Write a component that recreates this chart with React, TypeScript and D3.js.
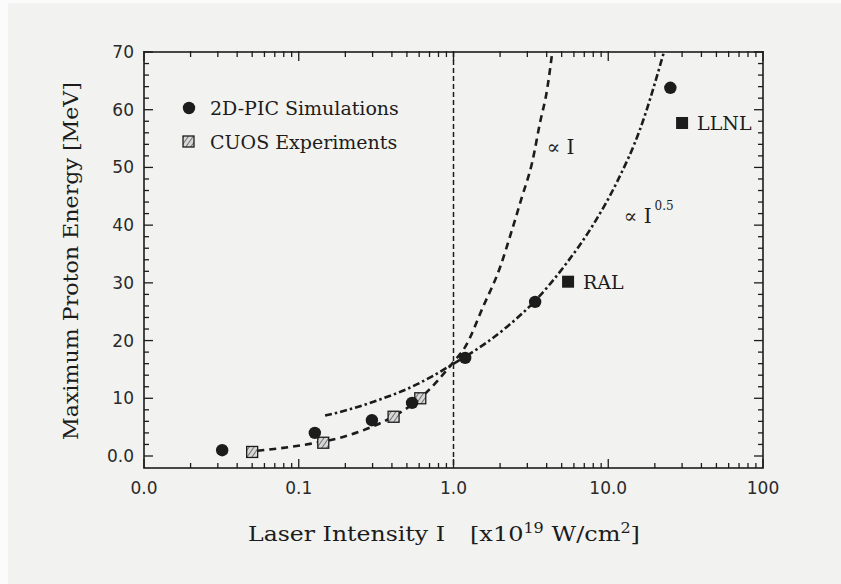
import React from 'react';
import * as d3 from 'd3';

// 2D-PIC simulation points (filled circles)
const picI = [0.032, 0.127, 0.297, 0.54, 1.19, 3.37, 25.2];
const picE = [1.0, 4.0, 6.2, 9.2, 17.0, 26.7, 63.8];

// CUOS experiment points (hatched squares)
const cuosI = [0.05, 0.144, 0.41, 0.61];
const cuosE = [0.7, 2.3, 6.8, 10.0];

// other facilities (filled squares)
const facilityNames = ['RAL', 'LLNL'];
const facilityI = [5.5, 30];
const facilityE = [30.2, 57.7];

// dashed guide "∝ I"
const linI = [0.054, 0.118, 0.193, 0.288, 0.406, 0.608, 1.0, 1.19, 1.55, 2.0, 2.39, 2.77, 3.22, 3.62, 4.02, 4.35];
const linE = [0.9, 2.1, 3.3, 4.9, 6.8, 10.0, 16.3, 18.9, 25.8, 32.7, 39.2, 44.9, 50.8, 57.7, 63.4, 70];

// dash-dot guide "∝ I^0.5"
const sqrtI = [0.148, 0.214, 0.335, 0.5, 0.738, 1.0, 1.19, 2.22, 3.37, 5.41, 7.96, 11.4, 16.0, 22.9];
const sqrtE = [7.0, 8.1, 9.8, 11.6, 13.9, 16.0, 17.2, 22.4, 26.9, 33.5, 40.0, 47.5, 56.5, 70];

// axis tick labels
const xTickValues = [0.01, 0.1, 1, 10, 100];
const xTickLabels = ['0.0', '0.1', '1.0', '10.0', '100'];
const yTickValues = [0, 10, 20, 30, 40, 50, 60, 70];
const yTickLabels = ['0.0', '10', '20', '30', '40', '50', '60', '70'];

const W = 841;
const H = 584;
const INK = '#1c1c1c';
const SERIF = '"DejaVu Serif", "Liberation Serif", serif';
const SANS = '"DejaVu Sans", "Liberation Sans", sans-serif';

const App = () => {
    const x = d3.scaleLog().domain([0.01, 100]).range([144, 763]);
    const y = d3.scaleLinear().domain([-2.08, 70]).range([468, 52]);
    const [x0, x1] = x.range();
    const [y0, y1] = y.range();

    const line = d3.line<[number, number]>()
        .x(d => x(d[0]))
        .y(d => y(d[1]))
        .curve(d3.curveMonotoneX);

    const linPts = linI.map((v, i) => [v, linE[i]] as [number, number]);
    const sqrtPts = sqrtI.map((v, i) => [v, sqrtE[i]] as [number, number]);

    const xTicks = x.ticks();
    const isDecade = (t: number) => Math.abs(Math.log10(t) - Math.round(Math.log10(t))) < 1e-6;
    const yTicks = d3.range(0, 71, 2);

    return (
        <div style={{ position: 'fixed', left: 0, top: 0 }}>
            <svg width={W} height={H} style={{ display: 'block' }}>
                <defs>
                    <pattern id="hatch" width="4" height="4" patternUnits="userSpaceOnUse" patternTransform="rotate(35)">
                        <rect width="4" height="4" fill="#d8d8d8" />
                        <line x1="0" y1="0" x2="0" y2="4" stroke="#444" strokeWidth="1.4" />
                    </pattern>
                </defs>
                <rect width={W} height={H} fill="#fbfbfb" />
                <rect x={8} y={3} width={W - 8} height={H - 3} fill="#f2f2f0" />

                {/* frame */}
                <rect x={x0} y={y1} width={x1 - x0} height={y0 - y1} fill="none" stroke={INK} strokeWidth={1.6} />

                {/* x ticks, bottom and top */}
                {xTicks.map((t, i) => {
                    const len = isDecade(t) ? 9 : 5;
                    return (
                        <g key={'xt' + i} stroke={INK} strokeWidth={1.3}>
                            <line x1={x(t)} x2={x(t)} y1={y0} y2={y0 - len} />
                            <line x1={x(t)} x2={x(t)} y1={y1 - 1} y2={y1 + len} />
                        </g>
                    );
                })}
                {/* y ticks, left and right */}
                {yTicks.map((t, i) => {
                    const len = t % 10 === 0 ? 9 : 5;
                    return (
                        <g key={'yt' + i} stroke={INK} strokeWidth={1.3}>
                            <line x1={x0} x2={x0 + len} y1={y(t)} y2={y(t)} />
                            <line x1={x1} x2={x1 - len} y1={y(t)} y2={y(t)} />
                        </g>
                    );
                })}

                {/* tick labels */}
                {xTickValues.map((t, i) => (
                    <text key={'xl' + i} x={x(t)} y={494} textAnchor="middle"
                        fontFamily={SANS} fontSize={17} fill="#2a2a2a">{xTickLabels[i]}</text>
                ))}
                {yTickValues.map((t, i) => (
                    <text key={'yl' + i} x={134} y={y(t) + 6} textAnchor="end"
                        fontFamily={SANS} fontSize={17} fill="#2a2a2a">{yTickLabels[i]}</text>
                ))}

                {/* axis titles */}
                <text x={248} y={541} fontFamily={SERIF} fontSize={21} fill={INK}
                    textLength={197} lengthAdjust="spacingAndGlyphs">Laser Intensity I</text>
                <text x={470} y={541} fontFamily={SERIF} fontSize={21} fill={INK}
                    textLength={170} lengthAdjust="spacingAndGlyphs">
                    [x10<tspan dy={-8} fontSize={14}>19</tspan><tspan dy={8}> W/cm</tspan>
                    <tspan dy={-8} fontSize={14}>2</tspan><tspan dy={8}>]</tspan>
                </text>
                <text transform="translate(78, 261) rotate(-90)" textAnchor="middle"
                    fontFamily={SERIF} fontSize={21} fill={INK}
                    textLength={358} lengthAdjust="spacingAndGlyphs">Maximum Proton Energy [MeV]</text>

                {/* reference line at I = 1 */}
                <line x1={x(1)} x2={x(1)} y1={y1} y2={y0} stroke={INK} strokeWidth={1.5} strokeDasharray="5 3" />

                {/* guide curves */}
                <path d={line(linPts) || ''} fill="none" stroke={INK} strokeWidth={2.6} strokeDasharray="7 5" />
                <path d={line(sqrtPts) || ''} fill="none" stroke={INK} strokeWidth={2.6} strokeDasharray="7 3 2.5 3" />

                {/* CUOS squares */}
                {cuosI.map((v, i) => (
                    <rect key={'c' + i} x={x(v) - 5.5} y={y(cuosE[i]) - 5.5} width={11} height={11}
                        fill="url(#hatch)" stroke={INK} strokeWidth={1.3} />
                ))}
                {/* PIC circles */}
                {picI.map((v, i) => (
                    <circle key={'p' + i} cx={x(v)} cy={y(picE[i])} r={6.2} fill={INK} />
                ))}
                {/* facilities */}
                {facilityI.map((v, i) => (
                    <g key={'f' + i}>
                        <rect x={x(v) - 6} y={y(facilityE[i]) - 6} width={12} height={12} fill={INK} />
                        <text x={x(v) + 15} y={y(facilityE[i]) + 7} fontFamily={SERIF} fontSize={19} fill={INK}>
                            {facilityNames[i]}
                        </text>
                    </g>
                ))}

                {/* curve labels */}
                <text x={x(4.0)} y={y(52.3)} fontFamily={SERIF} fontSize={20} fill={INK}>∝ I</text>
                <text x={x(12.6)} y={y(40.3)} fontFamily={SERIF} fontSize={20} fill={INK}>
                    ∝ I<tspan dx={3} dy={-13} fontSize={12}>0.5</tspan>
                </text>

                {/* legend */}
                <circle cx={189} cy={108} r={6.2} fill={INK} />
                <text x={210} y={115} fontFamily={SERIF} fontSize={19} fill={INK}>2D-PIC Simulations</text>
                <rect x={183} y={136} width={11} height={11} fill="url(#hatch)" stroke={INK} strokeWidth={1.3} />
                <text x={210} y={149} fontFamily={SERIF} fontSize={19} fill={INK}>CUOS Experiments</text>
            </svg>
        </div>
    );
};

export default App;
